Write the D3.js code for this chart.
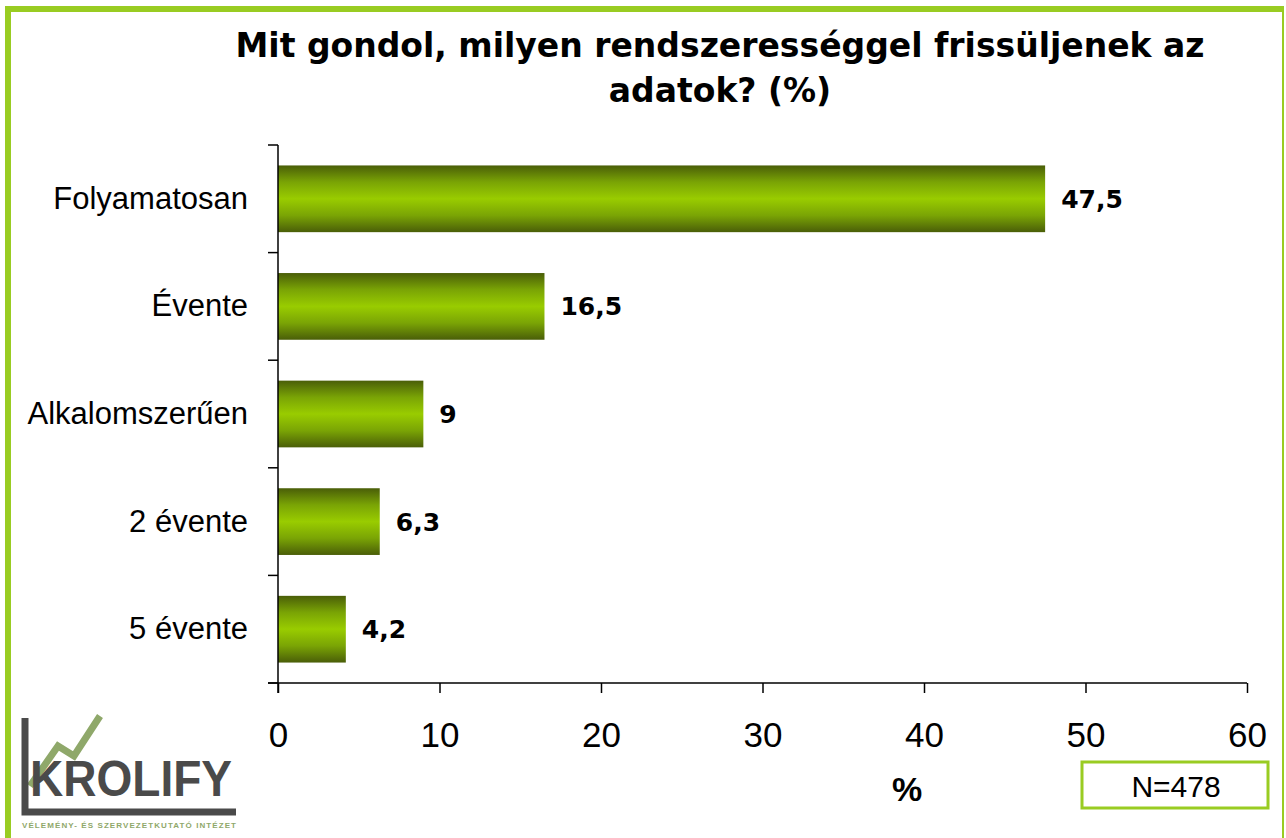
<!DOCTYPE html>
<html>
<head>
<meta charset="utf-8">
<script src="https://cdn.jsdelivr.net/npm/d3@7"></script>
<style>
  body { margin: 0; background: #fff; }
  svg { display: block; }
</style>
</head>
<body>
<div id="chart"></div>
<script>
// data
var categories = ["Folyamatosan", "Évente", "Alkalomszerűen", "2 évente", "5 évente"];
var values = [47.5, 16.5, 9, 6.3, 4.2];
var valueLabels = ["47,5", "16,5", "9", "6,3", "4,2"];
var xTicks = [0, 10, 20, 30, 40, 50, 60];
var titleLines = ["Mit gondol, milyen rendszerességgel frissüljenek az", "adatok? (%)"];

var width = 1286, height = 838;
var plotLeft = 278, plotRight = 1247, plotTop = 145, plotBottom = 683;

var svg = d3.select("#chart").append("svg")
    .attr("width", width)
    .attr("height", height);

// gradient for the bars (dark - bright - dark)
var grad = svg.append("defs").append("linearGradient")
    .attr("id", "barGrad")
    .attr("x1", 0).attr("y1", 0).attr("x2", 0).attr("y2", 1);
grad.append("stop").attr("offset", "0%").attr("stop-color", "#4a5e08");
grad.append("stop").attr("offset", "25%").attr("stop-color", "#7aa405");
grad.append("stop").attr("offset", "50%").attr("stop-color", "#99cc00");
grad.append("stop").attr("offset", "75%").attr("stop-color", "#7aa405");
grad.append("stop").attr("offset", "100%").attr("stop-color", "#4a5e08");

// frame
svg.append("rect").attr("x", 5).attr("y", 6).attr("width", 6).attr("height", height - 6).attr("fill", "#99cc22");
svg.append("rect").attr("x", 5).attr("y", 6).attr("width", 1279).attr("height", 6).attr("fill", "#99cc22");
svg.append("rect").attr("x", 1282).attr("y", 6).attr("width", 2).attr("height", height - 6).attr("fill", "#99cc22");

// title
svg.append("g").selectAll("text")
    .data(titleLines)
    .enter()
    .append("text")
    .attr("x", 720)
    .attr("y", function(d, i){ return 57 + i * 45; })
    .attr("text-anchor", "middle")
    .attr("font-family", "DejaVu Sans")
    .attr("font-weight", "bold")
    .attr("font-size", 33)
    .attr("fill", "#000")
    .text(function(d){ return d; });

var x = d3.scaleLinear().domain([0, 60]).range([plotLeft, plotRight]);
var y = d3.scaleBand().domain(categories).range([plotTop, plotBottom]).paddingInner(0.38).paddingOuter(0.19);

// bars
svg.append("g").selectAll("rect")
    .data(values)
    .enter()
    .append("rect")
    .attr("x", x(0))
    .attr("y", function(d, i){ return y(categories[i]); })
    .attr("width", function(d){ return x(d) - x(0); })
    .attr("height", y.bandwidth())
    .attr("fill", "url(#barGrad)");

// value labels
svg.append("g").selectAll("text")
    .data(values)
    .enter()
    .append("text")
    .attr("x", function(d){ return x(d) + 16; })
    .attr("y", function(d, i){ return y(categories[i]) + y.bandwidth() / 2 + 9; })
    .attr("font-family", "DejaVu Sans")
    .attr("font-weight", "bold")
    .attr("font-size", 25)
    .text(function(d, i){ return valueLabels[i]; });

// y axis with ticks between categories
var yTickPos = d3.range(categories.length + 1).map(function(i){
    return plotTop + i * (plotBottom - plotTop) / categories.length;
});
var yAxis = svg.append("g").attr("stroke", "#000");
yAxis.append("line").attr("x1", plotLeft).attr("x2", plotLeft).attr("y1", plotTop).attr("y2", plotBottom + 10).attr("stroke-width", 1.5);
yAxis.selectAll("line.tk")
    .data(yTickPos)
    .enter()
    .append("line")
    .attr("class", "tk")
    .attr("x1", plotLeft - 10).attr("x2", plotLeft)
    .attr("y1", function(d){ return d; }).attr("y2", function(d){ return d; })
    .attr("stroke-width", 1.5);

// category labels
svg.append("g").selectAll("text")
    .data(categories)
    .enter()
    .append("text")
    .attr("x", 248)
    .attr("y", function(d){ return y(d) + y.bandwidth() / 2 + 10; })
    .attr("text-anchor", "end")
    .attr("font-family", "Liberation Sans")
    .attr("font-size", 31)
    .text(function(d){ return d; });

// x axis
var xAxis = d3.axisBottom(x).tickValues(xTicks).tickSize(10).tickPadding(29);
var gx = svg.append("g")
    .attr("transform", "translate(0," + plotBottom + ")")
    .call(xAxis);
gx.select(".domain").attr("d", "M" + (plotLeft - 10) + ",0H" + plotRight).attr("stroke-width", 1.5);
gx.selectAll(".tick line").attr("stroke-width", 1.5);
gx.selectAll(".tick text")
    .attr("font-family", "Liberation Sans")
    .attr("font-size", 35)
    .attr("fill", "#000");

// axis title
svg.append("text")
    .attr("x", 907)
    .attr("y", 801)
    .attr("text-anchor", "middle")
    .attr("font-family", "Liberation Sans")
    .attr("font-weight", "bold")
    .attr("font-size", 34)
    .text("%");

// N box
svg.append("rect")
    .attr("x", 1082).attr("y", 762).attr("width", 186).attr("height", 46)
    .attr("fill", "#fff").attr("stroke", "#99cc22").attr("stroke-width", 3);
svg.append("text")
    .attr("x", 1176).attr("y", 797)
    .attr("text-anchor", "middle")
    .attr("font-family", "Liberation Sans")
    .attr("font-size", 30)
    .text("N=478");

// logo
var logo = svg.append("g");
logo.append("polyline")
    .attr("points", "30,786 58,746 74,756 100,716")
    .attr("fill", "none").attr("stroke", "#8fa86a").attr("stroke-width", 7);
logo.append("path")
    .attr("d", "M25,718 V812 H236")
    .attr("fill", "none").attr("stroke", "#4a4a4a").attr("stroke-width", 7);
logo.append("text")
    .attr("x", 30).attr("y", 796)
    .attr("font-family", "Liberation Sans")
    .attr("font-weight", "bold")
    .attr("font-size", 50)
    .attr("fill", "#4a4a4a")
    .attr("textLength", 202)
    .attr("lengthAdjust", "spacingAndGlyphs")
    .text("KROLIFY");
logo.append("text")
    .attr("x", 22).attr("y", 828)
    .attr("font-family", "Liberation Sans")
    .attr("font-weight", "bold")
    .attr("font-size", 8)
    .attr("fill", "#8fa86a")
    .attr("textLength", 214)
    .text("VÉLEMÉNY- ÉS SZERVEZETKUTATÓ INTÉZET");
</script>
</body>
</html>
